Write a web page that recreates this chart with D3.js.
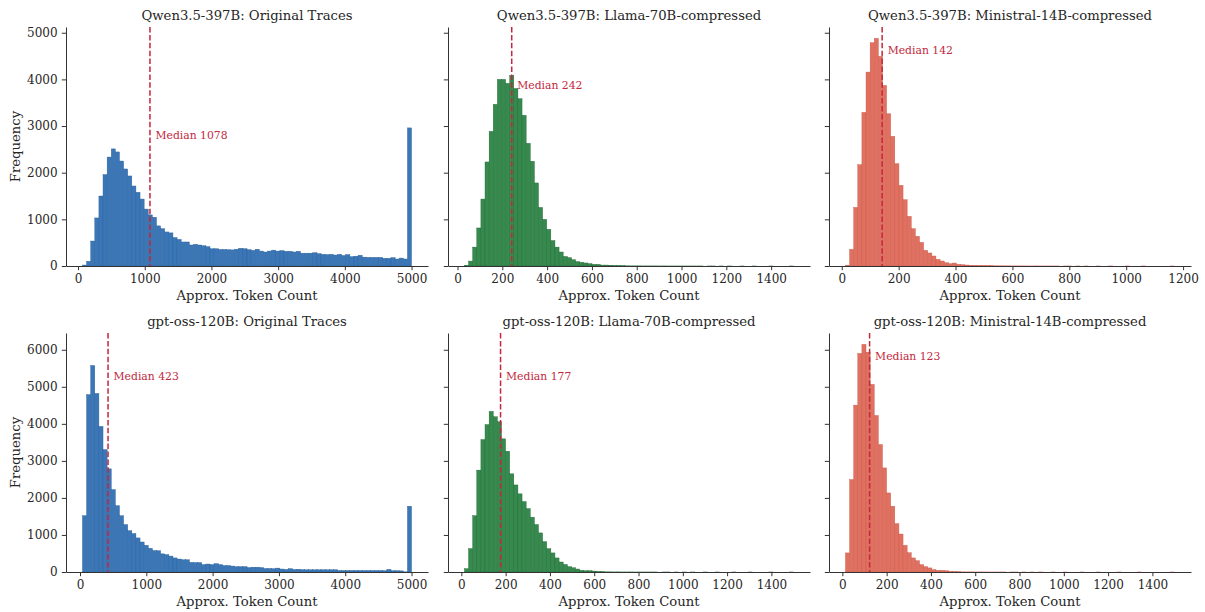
<!DOCTYPE html>
<html>
<head>
<meta charset="utf-8">
<script src="https://cdn.jsdelivr.net/npm/d3@7"></script>
<style>
  body { margin: 0; background: #fff; }
  svg text { font-family: "DejaVu Serif", serif; fill: #262626; }
  .axis path, .axis line { stroke: #333; stroke-width: 1; }
  .axis text { font-size: 12px; }
</style>
</head>
<body>
<svg id="chart" width="1205" height="612"></svg>
<script>
// Token-count histograms, 2 source models x 3 trace variants.
const MODELS = ["Qwen3.5-397B", "gpt-oss-120B"];
const VARIANTS = ["Original Traces", "Llama-70B-compressed", "Ministral-14B-compressed"];
const FILL = ["#3b77b7", "#378a4e", "#e07060"];
const EDGE = ["#2a5f98", "#1f6635", "#c85a4b"];

// [min, max] of each panel's data; every panel uses 80 equal bins
const BIN_RANGE = [[66, 5000], [31, 1500], [13, 1170], [37, 5000], [14, 1500], [14, 1500]];
const MEDIANS = [1078, 242, 142, 423, 177, 123];

const COUNTS_QWEN_ORIG = [
  20, 100, 535, 1030, 1500, 1960, 2335, 2510, 2445, 2250,
  2080, 1930, 1715, 1580, 1435, 1220, 1095, 1045, 860, 800,
  730, 710, 610, 570, 515, 515, 450, 465, 450, 435,
  415, 370, 370, 355, 355, 350, 345, 360, 380, 370,
  350, 335, 360, 320, 300, 320, 340, 320, 330, 315,
  315, 300, 315, 275, 275, 275, 285, 265, 250, 245,
  250, 235, 250, 225, 245, 200, 210, 230, 190, 185,
  185, 185, 185, 165, 165, 180, 150, 170, 150, 2960];
const COUNTS_QWEN_LLAMA = [
  15, 105, 405, 815, 1435, 2230, 2885, 3465, 4000, 4000,
  3915, 4085, 3805, 3585, 3230, 2630, 2245, 1780, 1255, 1000,
  785, 545, 405, 300, 205, 180, 135, 95, 80, 65,
  50, 35, 35, 20, 20, 15, 10, 8, 5, 4,
  3, 3, 3, 2, 2, 2, 2, 1, 2, 1,
  1, 1, 1, 1, 1, 1, 1, 1, 0, 1,
  1, 0, 1, 0, 1, 0, 0, 1, 0, 0,
  1, 0, 0, 0, 1, 0, 0, 0, 0, 1];
const COUNTS_QWEN_MINI = [
  15, 357, 1257, 2171, 3293, 4157, 4786, 4879, 4493, 3871,
  3264, 2779, 2193, 1729, 1421, 1064, 800, 636, 507, 336,
  279, 214, 143, 107, 71, 50, 64, 36, 29, 21,
  15, 12, 10, 8, 8, 5, 4, 4, 3, 3,
  2, 2, 2, 2, 1, 1, 2, 1, 1, 1,
  1, 1, 0, 1, 1, 0, 1, 0, 1, 0,
  0, 1, 0, 0, 1, 0, 0, 0, 1, 0,
  0, 0, 1, 0, 0, 0, 0, 0, 0, 1];
const COUNTS_GPT_ORIG = [
  1520, 4790, 5575, 4820, 3930, 3305, 2785, 2225, 1790, 1520,
  1280, 1115, 1040, 920, 810, 720, 640, 580, 575, 490,
  470, 430, 380, 350, 330, 330, 260, 255, 255, 200,
  215, 200, 225, 200, 175, 175, 160, 145, 145, 145,
  120, 130, 130, 120, 95, 95, 90, 105, 80, 70,
  90, 70, 75, 65, 60, 60, 60, 60, 60, 60,
  60, 60, 40, 40, 40, 40, 40, 40, 40, 40,
  40, 40, 40, 35, 70, 35, 35, 30, 5, 1775];
const COUNTS_GPT_LLAMA = [
  90, 630, 1520, 2750, 3575, 3980, 4335, 4190, 4055, 3595,
  3260, 2650, 2350, 2110, 1900, 1710, 1480, 1280, 1055, 820,
  630, 515, 380, 270, 205, 145, 115, 80, 45, 35,
  35, 25, 12, 8, 5, 4, 3, 3, 2, 2,
  2, 1, 1, 1, 1, 1, 1, 0, 1, 1,
  0, 1, 0, 1, 0, 1, 0, 0, 1, 0,
  0, 1, 0, 0, 0, 1, 0, 0, 0, 1,
  0, 0, 0, 0, 1, 0, 0, 0, 0, 1];
const COUNTS_GPT_MINI = [
  515, 2495, 4505, 5900, 6145, 5935, 5065, 4225, 3440, 2810,
  2135, 1775, 1305, 1025, 720, 520, 380, 305, 200, 145,
  110, 65, 45, 45, 35, 15, 10, 6, 4, 3,
  3, 2, 2, 2, 1, 1, 1, 1, 1, 0,
  1, 1, 0, 1, 0, 1, 0, 1, 0, 0,
  1, 0, 0, 1, 0, 0, 0, 1, 0, 0,
  0, 1, 0, 0, 0, 0, 1, 0, 0, 0,
  0, 1, 0, 0, 0, 0, 0, 0, 0, 1];
const COUNTS = [COUNTS_QWEN_ORIG, COUNTS_QWEN_LLAMA, COUNTS_QWEN_MINI,
                COUNTS_GPT_ORIG, COUNTS_GPT_LLAMA, COUNTS_GPT_MINI];

const X_TICKS = [d3.range(0, 5001, 1000), d3.range(0, 1401, 200), d3.range(0, 1201, 200),
                 d3.range(0, 5001, 1000), d3.range(0, 1401, 200), d3.range(0, 1401, 200)];
const Y_TICKS = [d3.range(0, 5001, 1000), d3.range(0, 6001, 1000)];

const svg = d3.select("#chart");
const COL_X = [66, 448, 829], ROW_Y = [27, 333];
const PW = 362, PH = 239;

MODELS.forEach((model, r) => {
  const rowMax = d3.max(COUNTS.slice(r * 3, r * 3 + 3), c => d3.max(c));
  const ys = d3.scaleLinear().domain([0, rowMax * 1.05]).range([PH, 0]);
  let runMax = 0;

  VARIANTS.forEach((variant, c) => {
    const k = r * 3 + c;
    const counts = COUNTS[k];
    const [lo, hi] = BIN_RANGE[k];
    const w = (hi - lo) / counts.length;
    const pad = (hi - lo) * 0.05;
    const xs = d3.scaleLinear().domain([lo - pad, hi + pad]).range([0, PW]);
    runMax = Math.max(runMax, d3.max(counts));

    const g = svg.append("g").attr("transform", `translate(${COL_X[c]},${ROW_Y[r]})`);

    g.selectAll("rect.bar")
      .data(counts)
      .join("rect")
      .attr("class", "bar")
      .attr("x", (d, i) => xs(lo + i * w))
      .attr("width", (d, i) => xs(lo + (i + 1) * w) - xs(lo + i * w))
      .attr("y", d => ys(d))
      .attr("height", d => ys(0) - ys(d))
      .attr("fill", FILL[c])
      .attr("stroke", EDGE[c])
      .attr("stroke-width", 0.4);

    // median marker; label sits at 90% of the y-limit as it was when the panel was drawn
    const mx = xs(MEDIANS[k]);
    g.append("line")
      .attr("x1", mx).attr("x2", mx).attr("y1", 0).attr("y2", PH)
      .attr("stroke", "#c1273d").attr("stroke-width", 1.5)
      .attr("stroke-dasharray", "5.5,2.4");
    g.append("text")
      .attr("x", mx + 5.5)
      .attr("y", ys(runMax * 1.05 * 0.9))
      .attr("dominant-baseline", "middle")
      .style("font-size", "10.8px")
      .style("fill", "#c1273d")
      .text(`Median ${MEDIANS[k]}`);

    g.append("g").attr("class", "axis")
      .attr("transform", `translate(0,${PH})`)
      .call(d3.axisBottom(xs).tickValues(X_TICKS[k]).tickFormat(d3.format("d"))
        .tickSize(4.2).tickSizeOuter(0).tickPadding(4.2));
    const yAxis = g.append("g").attr("class", "axis")
      .call(d3.axisLeft(ys).tickValues(Y_TICKS[r]).tickFormat(d3.format("d"))
        .tickSize(4.2).tickSizeOuter(0).tickPadding(4.2));
    if (c > 0) yAxis.selectAll(".tick text").remove();

    g.append("text")
      .attr("x", PW / 2).attr("y", -7.5)
      .attr("text-anchor", "middle")
      .style("font-size", "13.2px")
      .text(`${model}: ${variant}`);
    g.append("text")
      .attr("x", PW / 2).attr("y", PH + 34)
      .attr("text-anchor", "middle")
      .style("font-size", "13.2px")
      .text("Approx. Token Count");
    if (c === 0) {
      g.append("text")
        .attr("transform", `translate(-46,${PH / 2}) rotate(-90)`)
        .attr("text-anchor", "middle")
        .style("font-size", "13.2px")
        .text("Frequency");
    }
  });
});
</script>
</body>
</html>
